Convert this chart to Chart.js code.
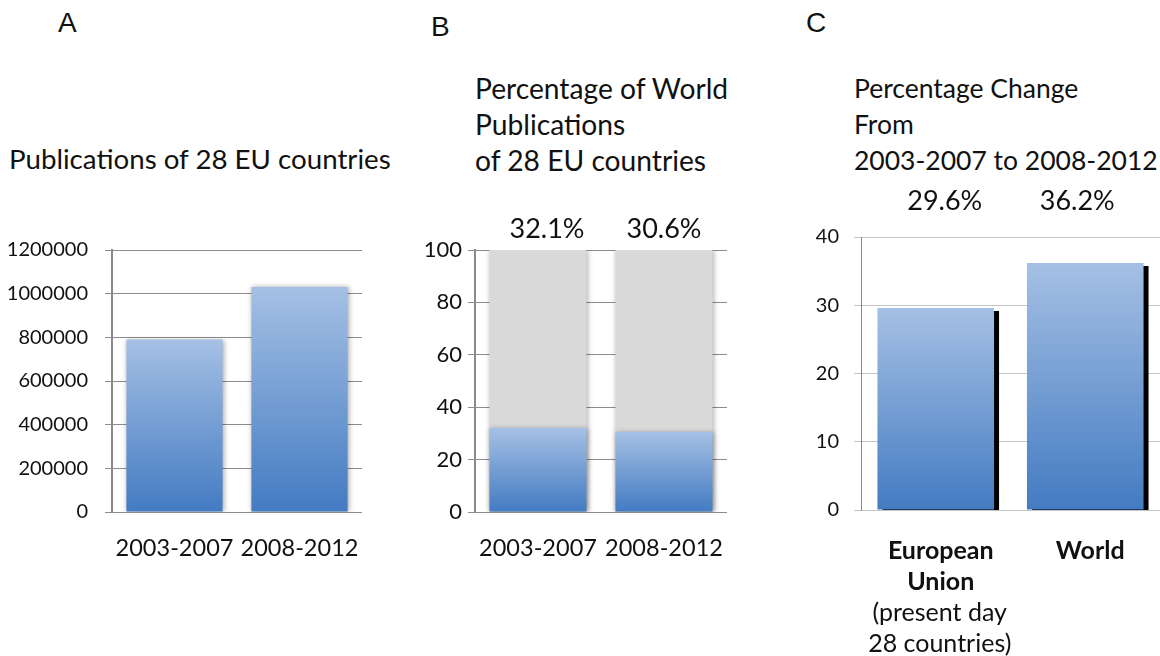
<!DOCTYPE html>
<html>
<head>
<meta charset="utf-8">
<script src="https://cdn.jsdelivr.net/npm/chart.js@4.4.1/dist/chart.umd.min.js"></script>
<style>
  body { margin: 0; background: #fff; width: 1160px; height: 656px; overflow: hidden; position: relative; font-family: Lato, sans-serif; color: #111; }
  .letter { position: absolute; font-family: "Liberation Sans", Arial, sans-serif; font-size: 28px; line-height: 28px; }
  .title { position: absolute; font-size: 27.5px; line-height: 36px; white-space: nowrap; }
  .box { position: absolute; }
</style>
</head>
<body>
<div class="letter" style="left:58px;top:9px">A</div>
<div class="letter" style="left:431px;top:13px">B</div>
<div class="letter" style="left:806px;top:9px">C</div>

<div class="title" style="left:9px;top:141px;font-size:27.7px">Publications of 28 EU countries</div>
<div class="title" style="left:475px;top:70px;font-size:28.2px">Percentage of World<br>Publications<br>of 28 EU countries</div>
<div class="title" style="left:854px;top:70px;font-size:26.5px">Percentage Change<br>From<br>2003-2007 to 2008-2012</div>

<div class="box" style="left:0px;top:240px;width:372px;height:330px"><canvas id="chartA"></canvas></div>
<div class="box" style="left:380px;top:200px;width:357px;height:370px"><canvas id="chartB"></canvas></div>
<div class="box" style="left:740px;top:180px;width:420px;height:476px"><canvas id="chartC"></canvas></div>

<script>
// Panel A - publications
var periods = ["2003-2007", "2008-2012"];
var pubsEU = [790000, 1030000];

// Panel B - share of world publications (%)
var shareEU = [32.1, 30.6];
var shareWhole = [100, 100];

// Panel C - percentage change
var regions = [["European", "Union"], ["World"]];
var regionNotes = [["(present day", "28 countries)"], []];
var changePct = [29.6, 36.2];

// blue gradient from top of each bar to its base
function blueBar(c) {
  var chart = c.chart;
  if (!chart.chartArea || c.type !== "data") return "#6d98d1";
  var y = chart.scales.y;
  var top = y.getPixelForValue(c.parsed.y);
  var bot = y.getPixelForValue(0);
  var g = chart.ctx.createLinearGradient(0, top, 0, bot);
  g.addColorStop(0, "#a5c0e4");
  g.addColorStop(1, "#437bc2");
  return g;
}

// shadow under bars
var barShadow = {
  id: "barShadow",
  beforeDatasetsDraw: function (chart, args, o) {
    var ctx = chart.ctx;
    ctx.save();
    ctx.shadowColor = o.color;
    ctx.shadowBlur = o.blur;
    ctx.shadowOffsetX = o.x;
    ctx.shadowOffsetY = o.y;
  },
  afterDatasetsDraw: function (chart) {
    chart.ctx.restore();
  }
};

// value labels above the plot
var topLabels = {
  id: "topLabels",
  afterDraw: function (chart, args, o) {
    if (!o.texts) return;
    var ctx = chart.ctx;
    var meta = chart.getDatasetMeta(0);
    ctx.save();
    ctx.font = o.font;
    ctx.fillStyle = "#111";
    ctx.textAlign = "center";
    ctx.textBaseline = "alphabetic";
    meta.data.forEach(function (bar, i) {
      ctx.fillText(o.texts[i], bar.x + (o.dx ? o.dx[i] : 0), chart.chartArea.top - o.gap);
    });
    ctx.restore();
  }
};

// extra lines under the x tick labels
var tickNotes = {
  id: "tickNotes",
  afterDraw: function (chart, args, o) {
    if (!o.notes) return;
    var ctx = chart.ctx;
    var x = chart.scales.x;
    ctx.save();
    ctx.font = o.font;
    ctx.fillStyle = "#111";
    ctx.textAlign = "center";
    ctx.textBaseline = "middle";
    o.notes.forEach(function (lines, i) {
      lines.forEach(function (t, j) {
        ctx.fillText(t, x.getPixelForValue(i) + o.dx, o.y + j * o.lh);
      });
    });
    ctx.restore();
  }
};

Chart.register(barShadow, topLabels, tickNotes);

function yAxis(min, max, step, width, pad, size, gridColor, borderW) {
  return {
    min: min, max: max,
    afterFit: function (s) { s.width = width; s.paddingTop = 0; s.paddingBottom = 0; },
    ticks: {
      stepSize: step, padding: pad, color: "#111", font: { family: "Lato", size: size },
      callback: function (v) { return String(v); }
    },
    grid: { color: gridColor, tickLength: 7, drawTicks: true },
    border: { color: "#8a8a8a", width: borderW }
  };
}

function xAxis(height, pad, font, lh, weight, shift) {
  return {
    afterFit: function (s) { s.height = height; s.paddingLeft = 0; s.paddingRight = 0; },
    ticks: {
      padding: pad, color: "#111", labelOffset: shift || 0,
      font: { family: "Lato", size: font, lineHeight: lh || 1.2, weight: weight || "normal" },
      maxRotation: 0, autoSkip: false
    },
    grid: { display: false, drawTicks: false },
    border: { display: false }
  };
}

var common = {
  responsive: true,
  maintainAspectRatio: false,
  animation: false,
  events: []
};

new Chart(document.getElementById("chartA"), {
  type: "bar",
  data: {
    labels: periods,
    datasets: [{ data: pubsEU, backgroundColor: blueBar, barPercentage: 0.77, categoryPercentage: 1 }]
  },
  options: Object.assign({}, common, {
    layout: { padding: { top: 10, right: 10, left: 0, bottom: 0 } },
    plugins: {
      legend: { display: false }, tooltip: { enabled: false },
      barShadow: { color: "rgba(0,0,0,0.35)", blur: 5, x: 1, y: 0 }
    },
    scales: {
      x: xAxis(58, 22, 23.5),
      y: yAxis(0, 1200000, 200000, 112, 17, 20, "#8c8c8c", 2)
    }
  })
});

new Chart(document.getElementById("chartB"), {
  type: "bar",
  data: {
    labels: periods,
    datasets: [
      { data: shareEU, backgroundColor: blueBar, barPercentage: 0.77, categoryPercentage: 1, grouped: false },
      { data: shareWhole, backgroundColor: "#d9d9d9", barPercentage: 0.77, categoryPercentage: 1, grouped: false }
    ]
  },
  options: Object.assign({}, common, {
    layout: { padding: { top: 50, right: 10, left: 0, bottom: 0 } },
    plugins: {
      legend: { display: false }, tooltip: { enabled: false },
      barShadow: { color: "rgba(0,0,0,0.3)", blur: 5, x: 1, y: 0 },
      topLabels: { texts: shareEU.map(function (v) { return v.toFixed(1) + "%"; }), font: "27px Lato", gap: 12, dx: [9, 0] }
    },
    scales: {
      x: xAxis(58, 22, 23.5),
      y: yAxis(0, 100, 20, 95, 6, 22, "#8c8c8c", 2)
    }
  })
});

new Chart(document.getElementById("chartC"), {
  type: "bar",
  data: {
    labels: regions,
    datasets: [{ data: changePct, backgroundColor: blueBar, barPercentage: 0.78, categoryPercentage: 1 }]
  },
  options: Object.assign({}, common, {
    layout: { padding: { top: 57, right: 0, left: 0, bottom: 0 } },
    plugins: {
      legend: { display: false }, tooltip: { enabled: false },
      barShadow: { color: "#000", blur: 0, x: 5, y: 3 },
      topLabels: { texts: changePct.map(function (v) { return v.toFixed(1) + "%"; }), font: "27px Lato", gap: 27, dx: [9, -8] },
      tickNotes: { notes: regionNotes, font: "25px Lato", y: 433, lh: 31, dx: 4 }
    },
    scales: {
      x: xAxis(146, 25, 25, 1.24, "bold", 5),
      y: yAxis(0, 40, 10, 121, 15, 20, "#c4c4c4", 1)
    }
  })
});
</script>
</body>
</html>
